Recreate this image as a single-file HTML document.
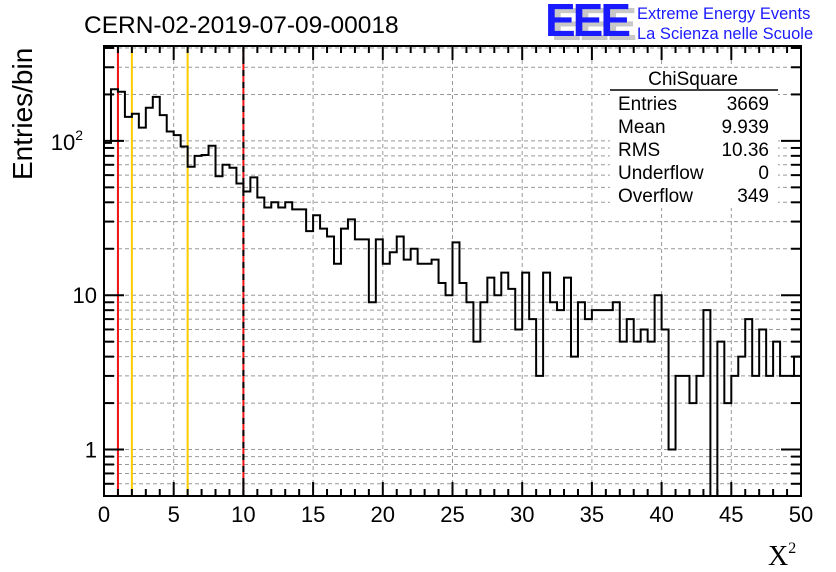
<!DOCTYPE html>
<html><head><meta charset="utf-8"><style>
html,body{margin:0;padding:0;background:#fff;}
svg{display:block;font-family:"Liberation Sans",sans-serif;}
</style></head><body>
<svg id="chart" width="836" height="572" viewBox="0 0 836 572">
<rect width="836" height="572" fill="#fff"/>
<g id="grid"></g>
<g id="marks"></g>
<path id="hist" fill="none" stroke="#000" stroke-width="2"/>
<g id="stats">
<rect x="610" y="68" width="168" height="140" fill="#fff"/>
<text x="693" y="85" font-size="19" text-anchor="middle">ChiSquare</text>
<line x1="610" y1="90" x2="778" y2="90" stroke="#000" stroke-width="1.5"/>
<g font-size="19">
<text x="618" y="110">Entries</text><text x="769" y="110" text-anchor="end">3669</text>
<text x="618" y="133">Mean</text><text x="769" y="133" text-anchor="end">9.939</text>
<text x="618" y="156">RMS</text><text x="769" y="156" text-anchor="end">10.36</text>
<text x="618" y="179">Underflow</text><text x="769" y="179" text-anchor="end">0</text>
<text x="618" y="202">Overflow</text><text x="769" y="202" text-anchor="end">349</text>
</g></g>
<g id="axes"></g>
<text x="84" y="33" font-size="24.5">CERN-02-2019-07-09-00018</text>
<text transform="translate(32,180) rotate(-90)" font-size="28">Entries/bin</text>
<text x="768" y="565" font-size="28" font-family="Liberation Serif,serif">X<tspan font-size="16" dy="-12">2</tspan></text>
<g>
<text x="551" y="40" font-size="46" font-weight="bold" fill="#c8c8c8" letter-spacing="-3">EEE</text>
<text x="545" y="36" font-size="46" font-weight="bold" fill="#1a1aff" letter-spacing="-3">EEE</text>
<text x="637" y="19" font-size="16.5" fill="#1a1aff">Extreme Energy Events</text>
<text x="637" y="39" font-size="16.5" fill="#1a1aff">La Scienza nelle Scuole</text>
</g>
</svg>
<script>
const counts=[97,216,208,143,150,122,164,193,147,115,109,92,68,80,81,93,59,70,67,53,47,58,43,37,40,37,40,36,36,26,33,27,24,16,27,31,23,23,9,23,16,19,24,17,20,16,16,17,12,10,22,12,9,5,9,13,10,14,11,6,14,7,3,14,9,8,13,4,9,7,8,8,8,9,5,7,5,6,5,10,6,1,3,3,2,3,8,0,5,2,3,4,7,3,6,3,5,3,3,4];
const xTicks=[0,5,10,15,20,25,30,35,40,45,50];
const markerLines=[{x:1,c:"#ee1111"},{x:2,c:"#ffcc00"},{x:6,c:"#ffcc00"},{x:10,c:"#ee1111"}];
const binW=0.5, X0=104,X1=801,Y0=46,Y1=496;
const yMin=0.5,yMax=412;
const sx=v=>X0+(v/50)*(X1-X0);
const sy=v=>{const l=Math.log10(Math.max(v,yMin));return Y1-(l-Math.log10(yMin))/(Math.log10(yMax)-Math.log10(yMin))*(Y1-Y0);};
const NS="http://www.w3.org/2000/svg";
function mk(p,t,a){const e=document.createElementNS(NS,t);for(const k in a)e.setAttribute(k,a[k]);p.appendChild(e);return e;}
const grid=document.getElementById('grid'),axes=document.getElementById('axes'),marks=document.getElementById('marks');
const yVals=[];for(let d=0.1;d<=100;d*=10)for(let m=1;m<10;m++){const v=+(m*d).toPrecision(3);if(v>=yMin&&v<=yMax)yVals.push(v);}
yVals.forEach(v=>{const y=sy(v);
 const g=mk(grid,'line',{x1:X0,x2:X1,y1:y,y2:y,stroke:'#999','stroke-width':1,'stroke-dasharray':'4,3'});
 
 const major=[1,10,100].includes(v);const L=major?20:10;
 mk(axes,'line',{x1:X0,x2:X0+L,y1:y,y2:y,stroke:'#000','stroke-width':2});
 mk(axes,'line',{x1:X1,x2:X1-L,y1:y,y2:y,stroke:'#000','stroke-width':2});
});
xTicks.forEach(v=>{const x=sx(v);
 if(v>0&&v<50){const g=mk(grid,'line',{x1:x,x2:x,y1:Y0,y2:Y1,stroke:'#999','stroke-width':1,'stroke-dasharray':'4,3'});
 }
 const t=mk(axes,'text',{x:x,y:522,'font-size':22,'text-anchor':'middle'});t.textContent=v;
 
});
for(let v=0;v<=50;v+=1){const x=sx(v);const L=v%5===0?14:7;
 mk(axes,'line',{x1:x,x2:x,y1:Y1,y2:Y1-L,stroke:'#000','stroke-width':2});
 mk(axes,'line',{x1:x,x2:x,y1:Y0,y2:Y0+L,stroke:'#000','stroke-width':2});}
[[1,'1'],[10,'10']].forEach(([v,s])=>{const t=mk(axes,'text',{x:97,y:sy(v)+8,'font-size':22,'text-anchor':'end'});t.textContent=s;
 });
{const t=mk(axes,'text',{x:83,y:sy(100)+9,'font-size':22,'text-anchor':'end'});t.textContent='10';
 const s=mk(t,'tspan',{'font-size':14,dy:-10});s.textContent='2';
 }
const fr=mk(axes,'rect',{x:X0,y:Y0,width:X1-X0,height:Y1-Y0,fill:'none',stroke:'#000','stroke-width':2});

markerLines.forEach(m=>{const x=sx(m.x);
 const l=mk(marks,'line',{x1:x,x2:x,y1:Y0,y2:Y1,stroke:m.c,'stroke-width':2});
 });
{const x=sx(10);mk(marks,'line',{x1:x,x2:x,y1:Y0,y2:Y1,stroke:'#000','stroke-width':2,'stroke-dasharray':'6,6'});}
let d='M'+X0+','+Y1;
counts.forEach((c,i)=>{const y=c>0?sy(c):Y1;d+=' L'+sx(i*binW)+','+y+' L'+sx((i+1)*binW)+','+y;});
d+=' L'+X1+','+Y1;
document.getElementById('hist').setAttribute('d',d);
</script>
</body></html>
